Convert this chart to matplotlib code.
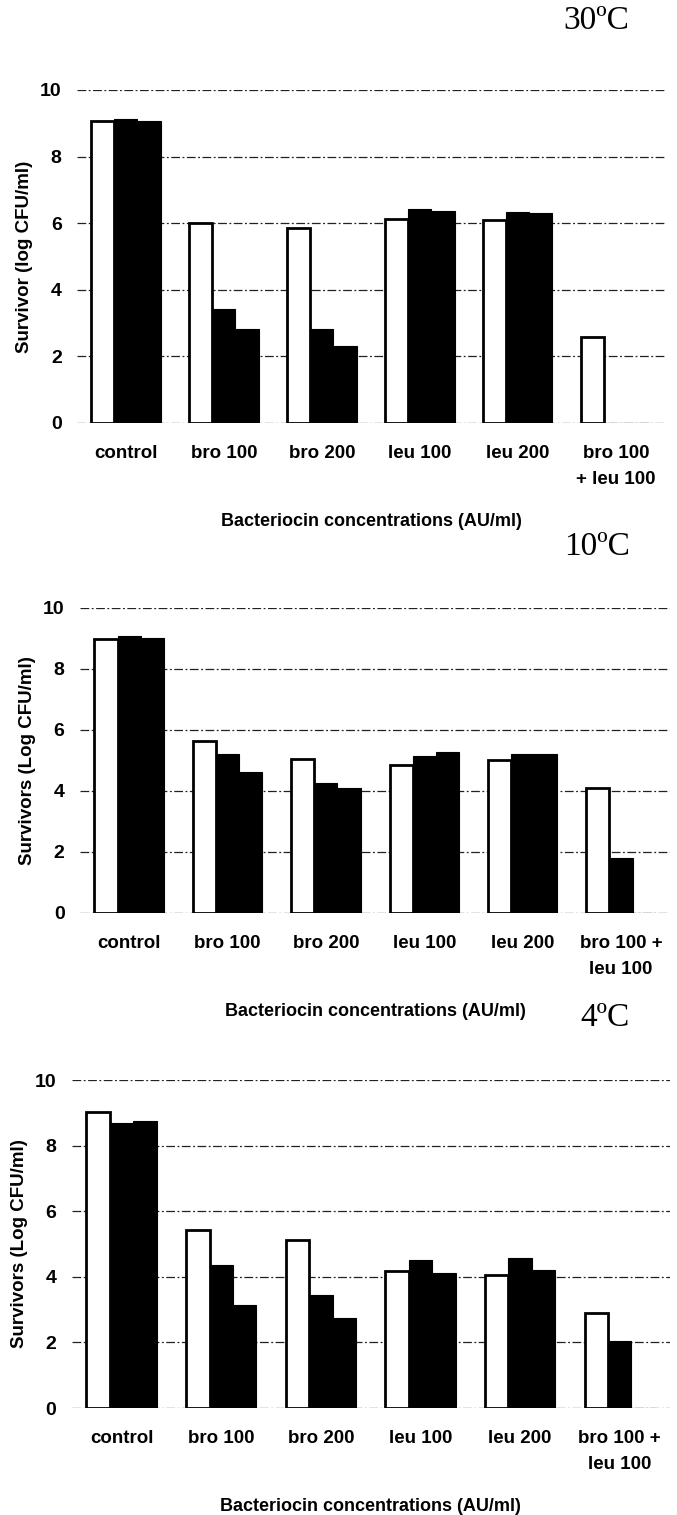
import numpy as np
import matplotlib
matplotlib.use("Agg")
import matplotlib.pyplot as plt

plt.rcParams['font.family'] = ['Liberation Sans', 'DejaVu Sans']

# Bacteriocin treatments on the x axis
categories_30 = ['control', 'bro 100', 'bro 200', 'leu 100', 'leu 200', 'bro 100\n+ leu 100']
categories_low = ['control', 'bro 100', 'bro 200', 'leu 100', 'leu 200', 'bro 100 +\nleu 100']

# Survivors (log CFU/ml), three sampling times per treatment
t30_a = [9.08, 6.01, 5.86, 6.12, 6.10, 2.58]
t30_b = [9.14, 3.43, 2.83, 6.42, 6.35, 0.0]
t30_c = [9.07, 2.83, 2.32, 6.38, 6.32, 0.0]

t10_a = [8.99, 5.64, 5.06, 4.85, 5.02, 4.09]
t10_b = [9.07, 5.20, 4.25, 5.15, 5.20, 1.79]
t10_c = [9.01, 4.61, 4.10, 5.27, 5.20, 0.0]

t4_a = [9.03, 5.42, 5.13, 4.17, 4.05, 2.91]
t4_b = [8.70, 4.36, 3.44, 4.52, 4.56, 2.05]
t4_c = [8.75, 3.14, 2.73, 4.13, 4.20, 0.0]

fig = plt.figure(figsize=(6.77, 15.15), dpi=100)

panels = [
    ([0.1137, 0.7208, 0.8685, 0.2198], categories_30, (t30_a, t30_b, t30_c),
     'Survivor (log CFU/ml)', '30ºC', 0.986),
    ([0.118, 0.3974, 0.872, 0.2013], categories_low, (t10_a, t10_b, t10_c),
     'Survivors (Log CFU/ml)', '10ºC', 0.639),
    ([0.106, 0.0706, 0.883, 0.2165], categories_low, (t4_a, t4_b, t4_c),
     'Survivors (Log CFU/ml)', '4ºC', 0.328),
]

w = 0.235
x = np.arange(6)
for rect, cats, (a, b, c), ylab, temp, ty in panels:
    ax = fig.add_axes(rect)
    ax.set_axisbelow(True)
    ax.bar(x - w, a, w, color='white', edgecolor='black', linewidth=2.0)
    ax.bar(x, b, w, color='black', edgecolor='black', linewidth=0.8)
    ax.bar(x + w, c, w, color='black', edgecolor='black', linewidth=0.8)

    ax.set_ylim(0, 10)
    ax.set_xlim(-0.5, 5.5)
    ax.set_yticks([0, 2, 4, 6, 8, 10])
    ax.yaxis.grid(True, color='#222222', linewidth=0.9,
                  linestyle=(0, (7, 2, 1.5, 2)))
    for s in ax.spines.values():
        s.set_visible(False)
    ax.tick_params(axis='y', length=0, pad=11, labelsize=14)
    ax.tick_params(axis='x', length=0, pad=16, labelsize=13.5)
    ax.set_xticks(x)
    ax.set_xticklabels(cats, fontweight='bold', linespacing=1.7)
    for lab in ax.get_yticklabels():
        lab.set_fontweight('bold')
    ax.set_ylabel(ylab, fontsize=13.5, fontweight='bold', labelpad=5)
    ax.set_xlabel('Bacteriocin concentrations (AU/ml)', fontsize=13,
                  fontweight='bold', labelpad=18)
    fig.text(0.93, ty, temp, ha='right', va='center',
             family='Liberation Serif', fontsize=24)

fig.savefig('out.png', dpi=100)
